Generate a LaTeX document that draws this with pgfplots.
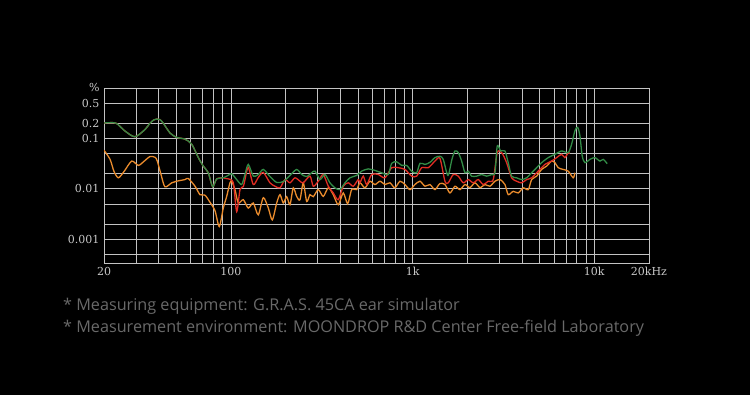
\documentclass[border=0pt]{standalone}
\usepackage{fontspec}
\setmainfont{DejaVu Serif}
\newfontfamily\labelfont{DejaVu Serif}
\newfontfamily\notefont{Open Sans}
\usepackage{pgfplots}
\pgfplotsset{compat=1.18}
\definecolor{gridgray}{RGB}{195,195,195}
\definecolor{labelgray}{RGB}{200,200,200}
\definecolor{cgreen}{RGB}{50,140,70}
\definecolor{cred}{RGB}{225,45,35}
\definecolor{corange}{RGB}{235,140,45}
\definecolor{notegray}{RGB}{105,105,105}
\begin{document}
\begin{tikzpicture}
\fill[black] (0,0) rectangle (750pt,395pt);
\begin{axis}[
  at={(104pt,132pt)}, anchor=south west,
  scale only axis, width=545pt, height=175pt,
  xmode=log, ymode=log,
  xmin=20, xmax=20000, ymin=0.00034, ymax=1,
  axis line style={draw=gridgray, line width=0.9pt},
  xtick={20,100,1000,10000,20000},
  xticklabels={20,100,1k,10k,20kHz},
  minor xtick={30,40,50,60,70,80,90,200,300,400,500,600,700,800,900,2000,3000,4000,5000,6000,7000,8000,9000},
  ytick={0.001,0.01,0.1,0.2,0.5,1},
  yticklabels={0.001,0.01,0.1,0.2,0.5,\%},
  minor ytick={0.0005,0.002,0.005,0.02,0.05},
  grid=both,
  major grid style={draw=gridgray, line width=0.9pt},
  minor grid style={draw=gridgray, line width=0.9pt},
  major tick length=0pt, minor tick length=0pt,
  /pgf/number format/assume math mode=true,
  ticklabel style={font=\labelfont\fontsize{11}{13}\selectfont, text=labelgray},
  xticklabel style={yshift=-1pt},
  yticklabel style={xshift=-1pt},
  every axis plot/.append style={line width=1.3pt, smooth, tension=0.45, mark=none},
]
% orange
\addplot[corange] coordinates {
(20,0.0583)(21.6,0.0385)(22.7,0.0222)(24.0,0.0166)(25.8,0.0222)(28.4,0.0356)(30.9,0.0292)(33.2,0.0352)(35.8,0.0437)(38.2,0.0423)(39.3,0.0356)(41.2,0.0193)(43.3,0.0110)(47.2,0.0132)(50.2,0.0142)(55.8,0.0153)(58.2,0.0161)(63.4,0.0113)(67.5,0.00769)(71.9,0.00752)(76.6,0.00545)(81.7,0.00368)(86.2,0.00179)(90.7,0.00417)(94.7,0.00711)(98.7,0.0132)(100.9,0.0140)(105.2,0.00968)(109.7,0.00525)(116.9,0.00611)(124.5,0.00417)(132.7,0.00525)(141.3,0.00306)(150.6,0.00670)(160.5,0.00417)(168.8,0.00243)(178.5,0.00525)(186.1,0.00769)(194.1,0.00525)(202.6,0.00702)(211.2,0.00485)(220.2,0.0105)(229.9,0.00711)(239.8,0.00611)(250,0.0132)(261,0.00565)(272.2,0.00769)(283.8,0.00702)(302.4,0.00968)(322.1,0.00711)(343.2,0.0105)(365.6,0.00769)(389.5,0.00485)(415,0.00832)(438.8,0.00508)(461.6,0.00968)(491.8,0.00968)(512.7,0.0132)(546.3,0.0105)(582.1,0.0142)(620.2,0.0122)(660.7,0.0142)(703.9,0.0122)(750,0.0132)(799,0.0105)(851.3,0.0142)(907.2,0.0122)(966.2,0.00968)(1029.5,0.0122)(1097,0.0142)(1169,0.0113)(1245,0.0122)(1327,0.00968)(1413,0.0128)(1506,0.0122)(1604,0.00832)(1710,0.0113)(1821,0.00968)(1941,0.0122)(2067,0.0106)(2203,0.0132)(2347,0.0106)(2500,0.0122)(2663,0.0113)(2838,0.0142)(3024,0.0153)(3221,0.0122)(3358,0.00769)(3577,0.00895)(3812,0.00832)(4062,0.0105)(4328,0.00968)(4518,0.0153)(4813,0.0179)(5128,0.0243)(5464,0.0283)(5821,0.0356)(6070,0.0331)(6329,0.0263)(6743,0.0243)(7183,0.0225)(7653,0.0166)(7820,0.0209)
};
% red
\addplot[cred] coordinates {
(20,0.202)(23.2,0.202)(26.1,0.140)(29.6,0.108)(33.6,0.150)(35.8,0.200)(37.5,0.232)(39.0,0.243)(40.6,0.236)(42.2,0.205)(46.2,0.128)(50.2,0.105)(55.8,0.0968)(60.8,0.0769)(66.1,0.0417)(70.4,0.0283)(75.0,0.0209)(79.3,0.0110)(83.4,0.0158)(90.7,0.0166)(93.9,0.0161)(96.6,0.0158)(103,0.0132)(107.5,0.00352)(112.1,0.00968)(116.9,0.0111)(119.4,0.0153)(124.5,0.0267)(132.7,0.0122)(141.3,0.0168)(150.6,0.0212)(163.9,0.0132)(174.7,0.0113)(186.1,0.0105)(198.3,0.0153)(211.2,0.0132)(225,0.0166)(239.8,0.0142)(250,0.0132)(272.2,0.0179)(283.8,0.0113)(302.4,0.0142)(322.1,0.0193)(343.2,0.0113)(365.6,0.00832)(389.5,0.00611)(415,0.0113)(442.2,0.0132)(471,0.0113)(501.8,0.0153)(512.7,0.0132)(534.7,0.0179)(558.3,0.0122)(594.8,0.0193)(646.7,0.0193)(703.9,0.0166)(766.3,0.0263)(833.1,0.0263)(907.2,0.0243)(987.4,0.0179)(1052,0.0179)(1121,0.0263)(1219,0.0263)(1327,0.0356)(1413,0.0404)(1506,0.0142)(1570,0.0132)(1673,0.0193)(1782,0.0179)(1899,0.0132)(2023,0.0153)(2156,0.0132)(2297,0.0153)(2447,0.0122)(2607,0.0142)(2777,0.0153)(2922,0.0525)(3089,0.0525)(3291,0.0331)(3505,0.0166)(3735,0.0142)(3980,0.0132)(4241,0.0153)(4518,0.0166)(4912,0.0225)(5348,0.0306)(5821,0.0356)(6203,0.0417)(6607,0.0485)(6890,0.0417)(7183,0.0525)(7340,0.0508)
};
% green
\addplot[cgreen] coordinates {
(20,0.202)(23.2,0.202)(26.1,0.140)(29.6,0.108)(33.6,0.150)(35.8,0.200)(37.5,0.232)(39.0,0.243)(40.6,0.236)(42.2,0.205)(46.2,0.128)(50.2,0.105)(55.8,0.0968)(60.8,0.0769)(66.1,0.0417)(70.4,0.0283)(75.0,0.0209)(79.3,0.0110)(83.4,0.0158)(90.7,0.0166)(96.3,0.0185)(100.9,0.0200)(107.5,0.0153)(114.5,0.0122)(119.4,0.0193)(124.5,0.0306)(132.7,0.0179)(141.3,0.0193)(150.6,0.0243)(163.9,0.0176)(178.5,0.0134)(194.1,0.0140)(211.2,0.0185)(229.9,0.0243)(245,0.0193)(261,0.0176)(278.1,0.0209)(290,0.0225)(309,0.0153)(329.1,0.0193)(350.6,0.0132)(373.6,0.0105)(398,0.00968)(424.1,0.0132)(451.8,0.0166)(491.8,0.0185)(524,0.0225)(569.7,0.0249)(620.2,0.0232)(675.1,0.0209)(734,0.0193)(766.3,0.0321)(816.4,0.0344)(870,0.0292)(926.8,0.0292)(987.4,0.0225)(1052,0.0209)(1097,0.0321)(1169,0.0306)(1245,0.0336)(1327,0.0417)(1413,0.0443)(1474,0.0385)(1564,0.0185)(1645,0.0385)(1710,0.0565)(1782,0.0525)(1861,0.0356)(1941,0.0209)(2023,0.0225)(2112,0.0179)(2251,0.0179)(2398,0.0193)(2555,0.0179)(2721,0.0193)(2838,0.0209)(2922,0.0711)(3051,0.0565)(3221,0.0565)(3358,0.0331)(3505,0.0179)(3735,0.0166)(3980,0.0153)(4241,0.0166)(4422,0.0193)(4710,0.0243)(5128,0.0331)(5576,0.0417)(6070,0.0485)(6607,0.0565)(7183,0.0525)(7499,0.0769)(7820,0.142)(8093,0.166)(8331,0.113)(8578,0.0449)(8877,0.0331)(9457,0.0385)(10076,0.0417)(10735,0.0356)(11194,0.0385)(11776,0.0316)
};
\end{axis}
\node[anchor=west, text=notegray, font=\notefont\fontsize{16.2}{19}\selectfont, inner sep=0pt] at (63pt,89pt) {* Measuring equipment: G.R.A.S. 45CA ear simulator};
\node[anchor=west, text=notegray, font=\notefont\fontsize{16.2}{19}\selectfont, inner sep=0pt] at (63pt,67pt) {* Measurement environment: MOONDROP R\&D Center Free-field Laboratory};
\end{tikzpicture}
\end{document}
